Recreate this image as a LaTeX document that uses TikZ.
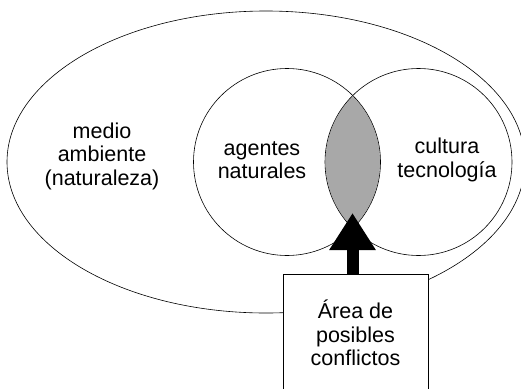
\documentclass[tikz,border=0pt]{standalone}
\usepackage{fontspec}
\setmainfont{Liberation Sans}
\usetikzlibrary{arrows.meta}
\definecolor{lente}{gray}{0.66}
\tikzset{
  texto/.style={align=center,font=\fontsize{21.5}{23.5}\selectfont,inner sep=0pt},
  circulo/.style={circle,draw,line width=0.6pt,minimum size=187pt,inner sep=0pt},
  caja/.style={draw,fill=white,line width=0.6pt,minimum width=145pt,minimum height=118pt,align=center,font=\fontsize{21.5}{23.5}\selectfont},
  flecha/.style={line width=12pt,-{Triangle[width=44pt,length=37pt]}}
}
\begin{document}
\begin{tikzpicture}[x=1pt,y=-1pt]
\useasboundingbox (0,0) rectangle (521,388);
\clip (0,0) rectangle (521,388);
\draw[line width=0.6pt] (266,162) ellipse [x radius=259, y radius=151];
\begin{scope}
\clip (287,162) circle [radius=93];
\fill[lente] (418.5,162) circle [radius=93];
\end{scope}
\node[circulo] (naturales) at (287,162) {};
\node[circulo] (cultura) at (418.5,162) {};
\node[texto] (medio) at (102,156) {medio\\ambiente\\(naturaleza)};
\node[texto] (agentes) at (262,160) {agentes\\naturales};
\node[texto] (tecno) at (447,160) {cultura\\tecnología};
\node[caja] (area) at (355.5,333) {Área de\\posibles\\conflictos};
\coordinate (cruce) at (352.5,213);
\draw[flecha] (area.north -| cruce) -- (cruce);
\end{tikzpicture}
\end{document}
